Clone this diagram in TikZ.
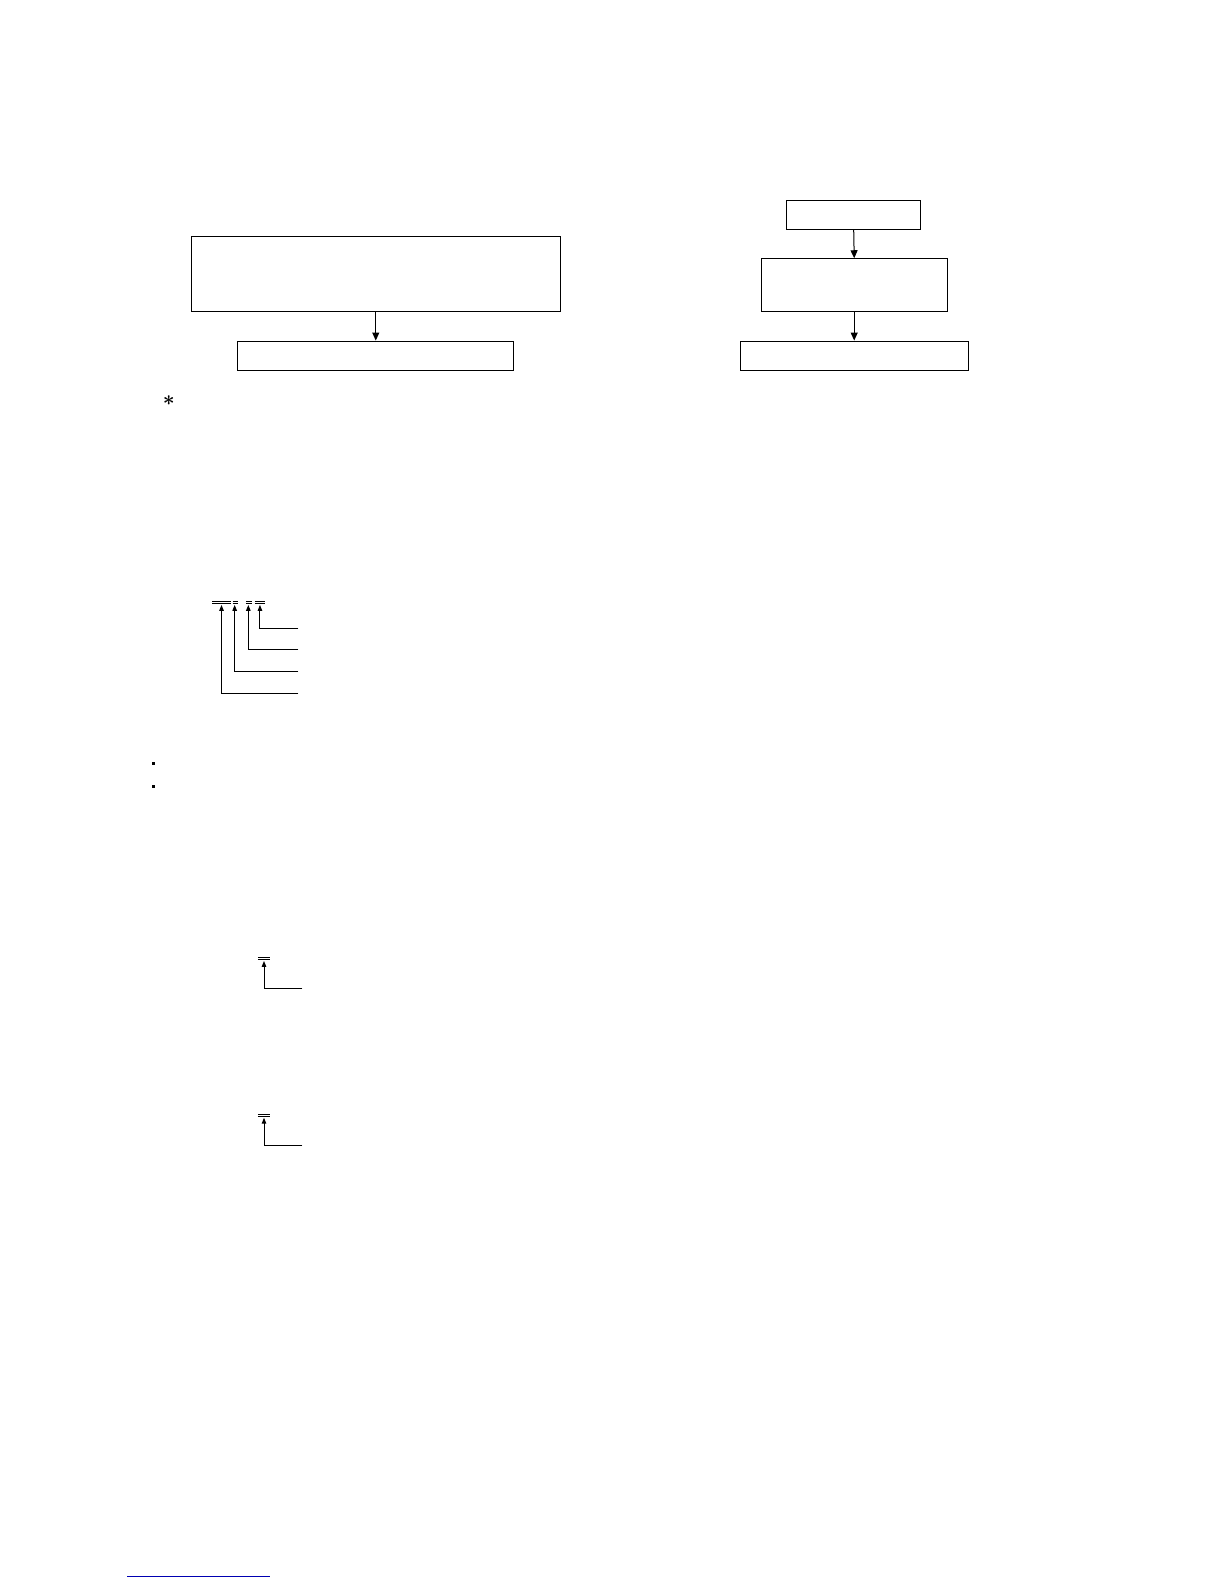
\documentclass[tikz,border=0pt]{standalone}
\usetikzlibrary{arrows.meta}
\begin{document}
\begin{tikzpicture}[x=1.0115pt,y=-1.0115pt,
  box/.style={draw,line width=1pt,inner sep=0pt},
  flow/.style={line width=1pt,-{Triangle[length=8pt,width=7pt]}},
  lead/.style={line width=1pt,-{Triangle[length=6pt,width=4.5pt]}},
  bar/.style={line width=0.8pt}]
\useasboundingbox (0,0) rectangle (1210.08,1566.0);
% left flow
\node[box,minimum width=369pt,minimum height=75pt] (L1) at (371.5,271) {};
\node[box,minimum width=276pt,minimum height=29pt] (L2) at (371.5,351.5) {};
\draw[flow] (L1.south) -- (L2.north);
% right flow
\node[box,minimum width=134pt,minimum height=29pt] (R1) at (844,212.5) {};
\node[box,minimum width=186pt,minimum height=53pt] (R2) at (844.5,282) {};
\node[box,minimum width=228pt,minimum height=29pt] (R3) at (844.5,351.5) {};
\draw[flow] (R1.south) -- (R2.north);
\draw[flow] (R2.south) -- (R3.north);
% asterisk
\node[inner sep=0pt,font=\huge\boldmath,line width=0.6pt] (ast) at (167,396) {$\ast$};
% code tree
\coordinate (b1) at (219,598);
\coordinate (b2) at (232,598);
\coordinate (b3) at (245.5,598);
\coordinate (b4) at (257,598);
\foreach \a/\b in {210/228, 230/235, 243/249, 252/262}{
  \draw[bar] (\a,594.5) -- (\b,594.5);
  \draw[bar] (\a,596.5) -- (\b,596.5);
}
\coordinate (e4) at (295,621);
\coordinate (e3) at (295,642);
\coordinate (e2) at (295,664);
\coordinate (e1) at (295,686);
\draw[lead] (e4) -| (b4);
\draw[lead] (e3) -| (b3);
\draw[lead] (e2) -| (b2);
\draw[lead] (e1) -| (b1);
% bullets
\fill (150.5,753.5) rectangle ++(3,3);
\fill (150.5,776.5) rectangle ++(3,3);
% lower trees
\draw[bar] (255,946.5) -- (267,946.5);
\draw[bar] (255,948.5) -- (267,948.5);
\coordinate (c1) at (261,950);
\coordinate (f1) at (299,977);
\draw[lead] (f1) -| (c1);
\draw[bar] (255,1101.5) -- (267,1101.5);
\draw[bar] (255,1103.5) -- (267,1103.5);
\coordinate (c2) at (261,1105);
\coordinate (f2) at (299,1132);
\draw[lead] (f2) -| (c2);
% link underline
\draw[blue!70!black,line width=0.6pt] (126,1558) -- (267,1558);
\end{tikzpicture}
\end{document}
